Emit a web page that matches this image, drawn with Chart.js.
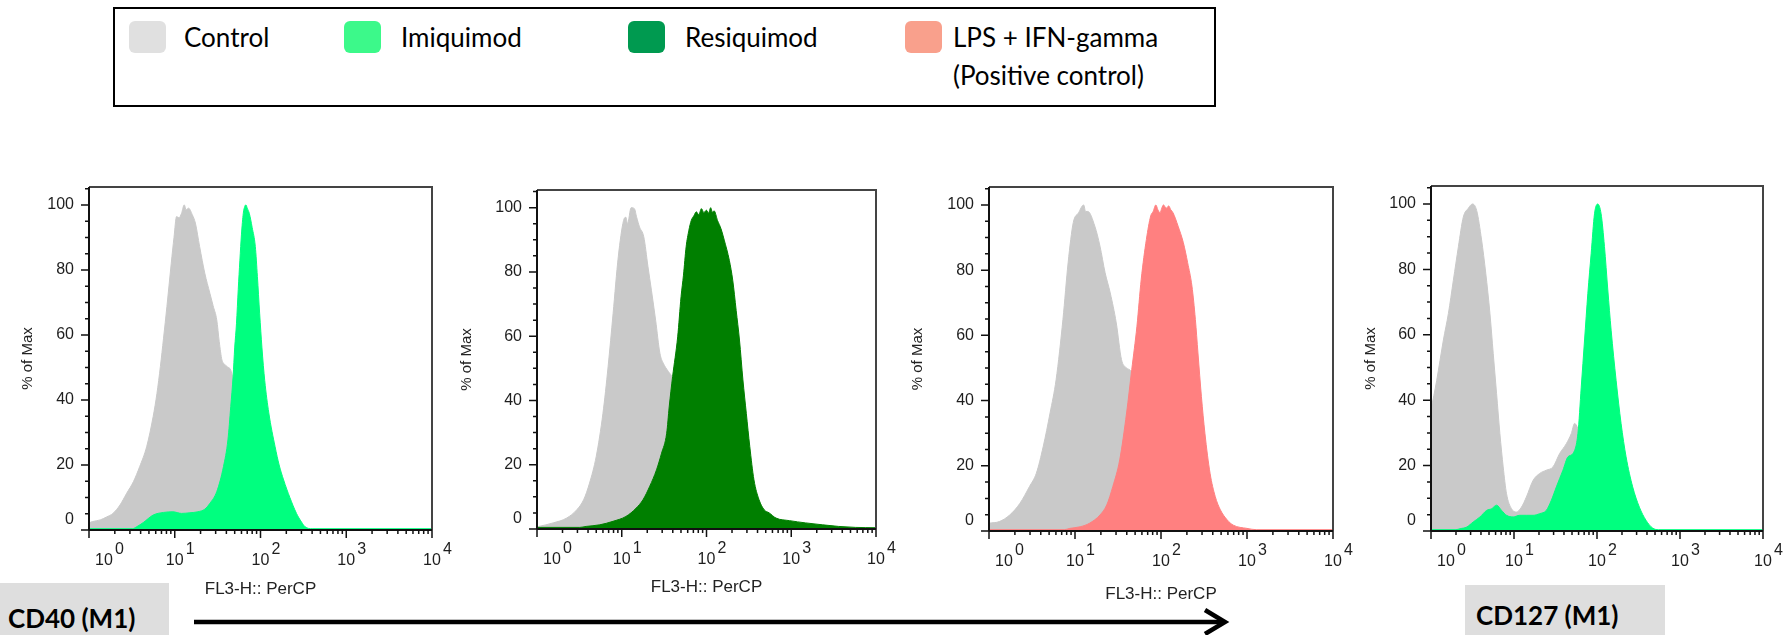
<!DOCTYPE html>
<html>
<head>
<meta charset="utf-8">
<script src="https://cdn.jsdelivr.net/npm/chart.js@4.4.1/dist/chart.umd.min.js"></script>
<style>
  body { margin: 0; background: #fff; }
  #page { position: relative; width: 1788px; height: 635px; overflow: hidden; font-family: Lato, "Open Sans", sans-serif; color: #000; }
  canvas.panel { position: absolute; }
  #legend { position: absolute; left: 113px; top: 7px; width: 1099px; height: 96px; border: 2px solid #000; }
  .sw { position: absolute; top: 12px; width: 37px; height: 32px; border-radius: 6px; }
  .lt { position: absolute; top: 9px; font-size: 26px; line-height: 38px; white-space: nowrap; }
  .tag { position: absolute; background: #dedede; font-weight: bold; font-size: 26px; line-height: 1.2; white-space: nowrap; }
  .tag span { position: absolute; }
  #arrow { position: absolute; left: 0; top: 0; }
</style>
</head>
<body>
<div id="page">
  <div id="legend"></div>
  <div class="tag" style="left:0;top:583px;width:169px;height:52px"><span style="left:8px;top:20px">CD40 (M1)</span></div>
  <div class="tag" style="left:1465px;top:585px;width:200px;height:50px"><span style="left:11px;top:15px">CD127 (M1)</span></div>
  <svg id="arrow" width="1788" height="635">
    <line x1="194" y1="622" x2="1224" y2="622" stroke="#000" stroke-width="4.5"/>
    <polyline points="1205,610 1225,622 1205,634" fill="none" stroke="#000" stroke-width="4.5"/>
  </svg>
</div>
<script>
// --- legend ---
const legendLabels = ['Control', 'Imiquimod', 'Resiquimod', 'LPS + IFN-gamma<br>(Positive control)'];
const legendColors = ['#e0e0e0', '#3cf98a', '#009a50', '#f9a08c'];

// --- histogram data: [FL3-H value, % of Max] ---
const p1Control = [[1, 2.2], [1.1, 2.6], [1.35, 3.1], [1.6, 4], [1.9, 5.1], [2.3, 7.7], [2.75, 11.3], [3.3, 14.9],
  [3.9, 19.5], [4.7, 25.6], [5.6, 34.9], [6.2, 42], [6.8, 50.3], [7.4, 59], [8.1, 68.7], [9.1, 82], [9.8, 90],
  [10.5, 96.4], [11.2, 96], [12, 97.4], [12.9, 100], [13.6, 98.5], [14.5, 99], [16, 97], [17.4, 94.4], [19.5, 87.2],
  [22.4, 79], [25.7, 72.8], [28, 69], [30.9, 64.6], [33, 58], [35.5, 52.3], [38, 51], [40.7, 50.3], [45.7, 48.7],
  [52.5, 40], [63, 30], [79, 18], [100, 9], [141, 3], [200, 1], [316, 0.2], [10000, 0]];
const p1Imiquimod = [[1, 0.4], [3.2, 0.4], [3.6, 1.0], [4.3, 2.3], [5.6, 4.6], [7.4, 5.4], [9.5, 5.6], [12, 5.1],
  [15, 5.3], [18.6, 5.6], [22.4, 6.4], [25.7, 8.2], [30.9, 11.8], [37, 19.5], [41.7, 27.7], [45, 38], [47.9, 47.2],
  [50, 56], [52.5, 63.6], [55, 74], [57.5, 83], [60, 91], [63, 97.4], [65.5, 99.5], [67.6, 100], [70, 99], [74, 97.4],
  [80, 93], [87, 87.2], [92, 78], [97.7, 66.7], [104, 56], [112, 46], [125, 36], [148, 25.6], [165, 20], [186, 15.4],
  [220, 10], [263, 5.1], [300, 2.5], [331, 1], [400, 0.4], [10000, 0.4]];

const p2Control = [[1, 0.7], [1.05, 0.8], [1.55, 1.9], [2.24, 3.4], [2.95, 6], [3.55, 9.1], [4.17, 14.3], [5.0, 22.6],
  [6.0, 36], [6.9, 50.5], [7.9, 67], [9.1, 84.7], [10.5, 96], [11.2, 97], [11.7, 95], [12.9, 100], [14.1, 99.7],
  [15, 97], [16.2, 94], [18.2, 90.9], [20.4, 81.6], [22.4, 74.3], [25.1, 65], [28.2, 54.7], [30.9, 51.6], [35.5, 49],
  [39.8, 46.9], [45.7, 40], [52.5, 32], [63, 24], [79, 15], [100, 8], [141, 3], [200, 1], [316, 0.2], [10000, 0]];
const p2Resiquimod = [[1, 0.5], [3.2, 0.5], [3.8, 0.8], [5.5, 1.3], [7.9, 2.4], [11.2, 3.9], [14.8, 6.5], [17.8, 9.1],
  [21.4, 13.3], [25.7, 18.4], [29.5, 23.6], [33.9, 29.8], [36.3, 38], [39.8, 47.4], [45.7, 59.8], [50.1, 72.3],
  [53.5, 79], [57.5, 87.8], [62, 93], [66.1, 96], [71, 97.5], [75.9, 98.7], [81, 97.8], [87.1, 99.7], [93, 98.5],
  [100, 99.2], [106, 98.3], [112, 100], [117, 98.6], [123, 99], [135, 96], [148, 93.5], [162, 89.9], [186, 83.6],
  [204, 77.4], [224, 68], [245, 58.8], [269, 46.4], [295, 36], [324, 25.7], [363, 15.3], [417, 9.1], [479, 6],
  [550, 5], [661, 3.4], [955, 2.6], [1479, 1.9], [2344, 1.3], [3631, 0.8], [5754, 0.5], [10000, 0.4]];

const p3Control = [[1, 2.4], [1.32, 2.9], [1.74, 4.9], [2.29, 8.5], [2.95, 13.6], [3.55, 17.7], [4.27, 25.9],
  [5.13, 36.2], [6.03, 46.4], [7.24, 64.9], [8.32, 82.3], [9.55, 94.6], [11, 97.6], [12.6, 100], [13.3, 98],
  [14.1, 98], [17, 93.5], [19.5, 87.4], [22.4, 79.2], [25.7, 73], [30.2, 63.8], [34.7, 52.6], [39.8, 50], [45.7, 48.5],
  [52.5, 40], [63, 30], [79, 18], [100, 9], [141, 3], [200, 1], [316, 0.2], [10000, 0]];
const p3LpsIfn = [[1, 0.4], [7.5, 0.4], [8.7, 0.8], [11.5, 1.3], [14.8, 2.4], [19.5, 4.9], [23.4, 8], [27.5, 13.6],
  [33.1, 21.8], [39.8, 36.2], [45.7, 49.5], [52.5, 62.8], [58.9, 77.2], [67.6, 89.4], [75.9, 96.6], [81, 98],
  [87.1, 100], [92, 98.5], [97.7, 97.6], [102, 99], [107, 100], [115, 99], [123, 99.7], [130, 98.5], [138, 97.6],
  [158, 93.5], [182, 88.4], [204, 82.3], [229, 75.1], [251, 64.9], [269, 54.6], [295, 41.3], [324, 30], [372, 17.7],
  [427, 10.6], [490, 6.5], [589, 3.4], [692, 1.8], [1000, 0.8], [1300, 0.4], [10000, 0.4]];

const p4Control = [[1, 37], [1.17, 46], [1.41, 58.4], [1.62, 66.5], [1.86, 76.7], [2.14, 87], [2.45, 96], [2.82, 98.7],
  [3.16, 100], [3.55, 98], [4.07, 89], [4.57, 78.8], [5.13, 66.5], [5.62, 54.3], [6.17, 42], [6.76, 29.8], [7.41, 19.6],
  [8.13, 11.4], [9.33, 6.8], [10.7, 5.8], [12.3, 7.3], [14.1, 10.4], [17, 15.5], [20.4, 17.6], [24.5, 18.6],
  [29.5, 19.6], [35.5, 23.7], [42.7, 26.7], [49, 29.8], [53.7, 32.9], [58.9, 31.3], [64.6, 28], [70.8, 22],
  [79.4, 15], [100, 7], [126, 3], [200, 1], [316, 0.2], [10000, 0]];
const p4Imiquimod = [[1, 0.4], [2, 0.4], [2.24, 0.7], [2.69, 1.2], [3.24, 2.8], [3.89, 4.3], [4.68, 6.3], [5.37, 6.8],
  [6.17, 7.9], [7.08, 6.3], [8.13, 4.8], [9.77, 4.3], [11.7, 4.8], [14.1, 4.8], [17, 4.8], [20.4, 5.3], [24.5, 6.3],
  [28.2, 9.4], [32.4, 13.5], [38.9, 18.6], [44.7, 22.7], [51.3, 23.7], [58.9, 29.8], [64.6, 44], [70.8, 58.4],
  [77.6, 72.7], [85.1, 84.9], [93.3, 97], [102, 100], [112, 97], [123, 87], [135, 73.7], [148, 61.4], [170, 46],
  [195, 32.9], [224, 22.7], [269, 13.5], [324, 7.3], [389, 3.3], [468, 0.9], [550, 0.4], [10000, 0.4]];

// --- axes ---
const xDecades = [0, 1, 2, 3, 4];
const yTickLabels = [0, 20, 40, 60, 80, 100];
const Y_MINOR_STEP = 5;
const X_TITLE = 'FL3-H:: PerCP';
const Y_TITLE = '% of Max';

const COLORS = { control: '#c9c9c9', imiquimod: '#00ff7f', resiquimod: '#007f00', lps: '#ff8080' };
const AXIS_FONT = '"Liberation Sans", Arial, sans-serif';

// --- legend html ---
const legendPos = [[14, 69], [229, 286], [513, 570], [790, 838]];
const legend = document.getElementById('legend');
legendLabels.forEach((lab, i) => {
  legend.innerHTML += '<div class="sw" style="left:' + legendPos[i][0] + 'px;background:' + legendColors[i] + '"></div>' +
    '<div class="lt" style="left:' + legendPos[i][1] + 'px">' + lab + '</div>';
});

// --- FlowJo style frame, ticks and labels ---
const flowAxes = {
  id: 'flowAxes',
  afterDraw(chart) {
    const { ctx, chartArea: a, scales: { x, y } } = chart;
    ctx.save();
    ctx.strokeStyle = '#444';
    ctx.lineWidth = 2;
    ctx.beginPath();
    ctx.moveTo(a.left, a.top); ctx.lineTo(a.right, a.top); ctx.lineTo(a.right, a.bottom);
    ctx.stroke();
    ctx.strokeStyle = '#111';
    ctx.beginPath();
    ctx.moveTo(a.left, a.top); ctx.lineTo(a.left, a.bottom);
    ctx.moveTo(a.left, a.bottom); ctx.lineTo(a.right, a.bottom);
    ctx.stroke();

    ctx.lineWidth = 1.5;
    ctx.beginPath();
    for (let v = 0; v <= 105; v += Y_MINOR_STEP) {
      const py = y.getPixelForValue(v);
      const len = v % 20 === 0 ? 8 : 4;
      ctx.moveTo(a.left - len, py); ctx.lineTo(a.left, py);
    }
    xDecades.forEach(d => {
      const px = x.getPixelForValue(Math.pow(10, d));
      ctx.moveTo(px, a.bottom); ctx.lineTo(px, a.bottom + 8);
      if (d < 4) {
        for (let m = 2; m <= 9; m++) {
          const mx = x.getPixelForValue(m * Math.pow(10, d));
          ctx.moveTo(mx, a.bottom); ctx.lineTo(mx, a.bottom + 4);
        }
      }
    });
    ctx.stroke();

    ctx.fillStyle = '#1e1e1e';
    ctx.font = '16px ' + AXIS_FONT;
    ctx.textAlign = 'right';
    ctx.textBaseline = 'middle';
    yTickLabels.forEach(v => {
      const py = y.getPixelForValue(v) - (v === 0 ? 10 : 0);
      ctx.fillText(String(v), a.left - 15, py);
    });
    ctx.textBaseline = 'alphabetic';
    xDecades.forEach(d => {
      const px = x.getPixelForValue(Math.pow(10, d)) + (d === 0 ? 15 : 0);
      ctx.textAlign = 'center';
      ctx.fillText('10', px, a.bottom + 35);
      ctx.textAlign = 'left';
      ctx.fillText(String(d), px + 11, a.bottom + 24);
    });
    ctx.restore();
  }
};

// --- panels ---
const CANVAS_TOP = 160, CANVAS_H = 450;
const panels = [
  { left: 89, right: 432, top: 187, bottom: 530, ytx: 27.5, xty: 589, series: [[p1Imiquimod, COLORS.imiquimod], [p1Control, COLORS.control]] },
  { left: 537, right: 876, top: 190, bottom: 529, ytx: 467, xty: 587, series: [[p2Resiquimod, COLORS.resiquimod], [p2Control, COLORS.control]] },
  { left: 989, right: 1333, top: 187, bottom: 531, ytx: 918, xty: 594, series: [[p3LpsIfn, COLORS.lps], [p3Control, COLORS.control]] },
  { left: 1431, right: 1763, top: 186, bottom: 531, ytx: 1371, xty: null, series: [[p4Imiquimod, COLORS.imiquimod], [p4Control, COLORS.control]] }
];

const page = document.getElementById('page');
panels.forEach(p => {
  const cl = p.left - 89;
  const cw = p.right + 26 - cl;
  const canvas = document.createElement('canvas');
  canvas.className = 'panel';
  canvas.width = cw; canvas.height = CANVAS_H;
  canvas.style.left = cl + 'px'; canvas.style.top = CANVAS_TOP + 'px';
  canvas.style.width = cw + 'px'; canvas.style.height = CANVAS_H + 'px';
  page.insertBefore(canvas, page.firstChild);

  new Chart(canvas, {
    type: 'line',
    data: {
      datasets: p.series.map(([pts, color]) => ({
        data: pts.map(([x, y]) => ({ x, y })),
        borderColor: color, backgroundColor: color,
        borderWidth: 1, fill: 'origin', pointRadius: 0,
        cubicInterpolationMode: 'monotone'
      }))
    },
    options: {
      responsive: false, animation: false, devicePixelRatio: 1,
      layout: { padding: { top: p.top - CANVAS_TOP, right: cl + cw - p.right, left: 0, bottom: 0 } },
      plugins: { legend: { display: false }, tooltip: { enabled: false } },
      scales: {
        x: {
          type: 'logarithmic', min: 1, max: 10000,
          ticks: { display: false }, grid: { display: false }, border: { display: false },
          afterFit: s => { s.height = CANVAS_TOP + CANVAS_H - p.bottom; },
          title: {
            display: p.xty !== null, text: X_TITLE, color: '#222',
            font: { family: AXIS_FONT, size: 17 },
            padding: { top: 0, bottom: p.xty === null ? 0 : CANVAS_TOP + CANVAS_H - 10.2 - p.xty }
          }
        },
        y: {
          type: 'linear', min: 0, max: 105.5,
          ticks: { display: false }, grid: { display: false }, border: { display: false },
          afterFit: s => { s.width = p.left - cl; },
          title: {
            display: true, text: Y_TITLE, color: '#222',
            font: { family: AXIS_FONT, size: 15 },
            padding: { top: p.ytx - cl - 9, bottom: 0 }
          }
        }
      }
    },
    plugins: [flowAxes]
  });
});
</script>
</body>
</html>
